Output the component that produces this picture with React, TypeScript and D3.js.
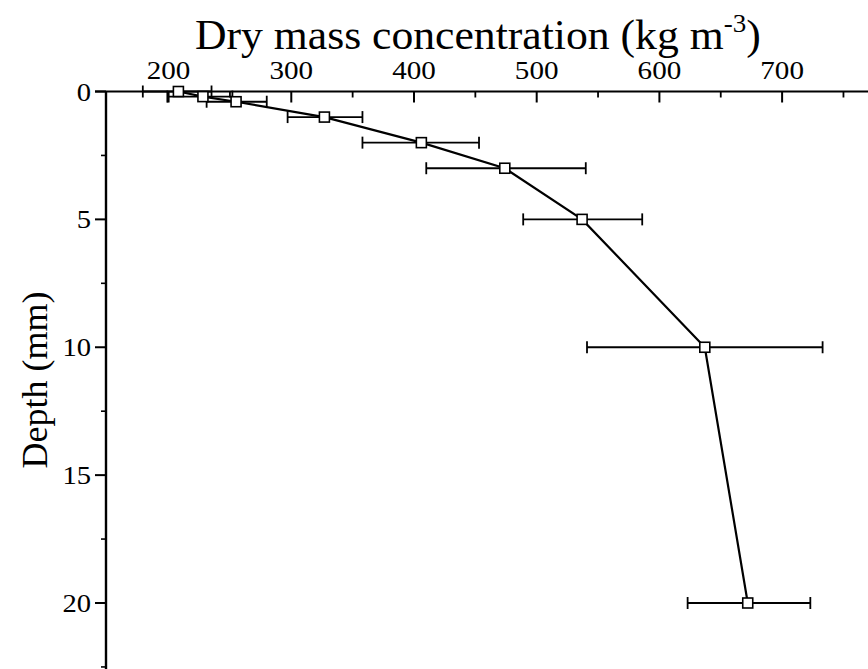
import React from "react";
import * as d3 from "d3";

const depths = [0, 0.2, 0.4, 1, 2, 3, 5, 10, 20];
const concentration = [208, 228, 255, 327, 406, 474, 537, 637, 672];
const errLow = [179, 199, 231, 297, 358, 410, 489, 541, 623];
const errHigh = [235, 252, 280, 358, 453, 540, 586, 733, 723];
const xMajorTicks = [200, 300, 400, 500, 600, 700];
const xMinorTicks = [250, 350, 450, 550, 650, 750];
const yMajorTicks = [0, 5, 10, 15, 20];
const yMinorTicks = [2.5, 7.5, 12.5, 17.5, 22.5];

const W = 868;
const H = 669;
const FONT = "'Liberation Serif', 'Times New Roman', serif";

export default function App() {
  const x = d3.scaleLinear().domain([149, 770]).range([106, 868]);
  const y = d3.scaleLinear().domain([0, 20]).range([91.5, 603]);
  const line = d3
    .line<number>()
    .x((_, i) => x(concentration[i]))
    .y((d) => y(d));

  return (
    <svg
      width={W}
      height={H}
      style={{ position: "absolute", left: 0, top: 0, background: "#fff" }}
      fontFamily={FONT}
    >
      {/* axes */}
      <line x1={95} x2={W} y1={y(0)} y2={y(0)} stroke="#000" strokeWidth={1.8} />
      <line x1={106} x2={106} y1={y(0)} y2={H} stroke="#000" strokeWidth={2.4} />

      {/* top axis ticks (inward) */}
      {xMajorTicks.map((t) => (
        <g key={"xm" + t}>
          <line x1={x(t)} x2={x(t)} y1={y(0)} y2={y(0) + 11} stroke="#000" strokeWidth={2} />
          <text
            transform={`translate(${x(t)},79) scale(1.12,1)`}
            fontSize={26}
            textAnchor="middle"
            fill="#000"
          >
            {t}
          </text>
        </g>
      ))}
      {xMinorTicks.map((t) => (
        <line key={"xn" + t} x1={x(t)} x2={x(t)} y1={y(0)} y2={y(0) + 6} stroke="#000" strokeWidth={1.8} />
      ))}

      {/* left axis ticks (outward) */}
      {yMajorTicks.map((t) => (
        <g key={"ym" + t}>
          <line x1={95} x2={106} y1={y(t)} y2={y(t)} stroke="#000" strokeWidth={2} />
          <text
            transform={`translate(91,${y(t)}) scale(1.1,1)`}
            dy="0.35em"
            fontSize={26}
            textAnchor="end"
            fill="#000"
          >
            {t}
          </text>
        </g>
      ))}
      {yMinorTicks.map((t) => (
        <line key={"yn" + t} x1={101} x2={106} y1={y(t)} y2={y(t)} stroke="#000" strokeWidth={1.6} />
      ))}

      {/* titles */}
      <text transform="translate(195,49) scale(1.04,1)" fontSize={42} fill="#000">
        Dry mass concentration (kg m
        <tspan dy={-17} fontSize={26}>-3</tspan>
        <tspan dy={17}>)</tspan>
      </text>
      <text
        transform={`translate(47, 380) rotate(-90)`}
        fontSize={36}
        textAnchor="middle"
        fill="#000"
      >
        Depth (mm)
      </text>

      {/* error bars */}
      {depths.map((d, i) => (
        <g key={"e" + i} stroke="#000" strokeWidth={1.8}>
          <line x1={x(errLow[i])} x2={x(errHigh[i])} y1={y(d)} y2={y(d)} />
          <line x1={x(errLow[i])} x2={x(errLow[i])} y1={y(d) - 6} y2={y(d) + 6} />
          <line x1={x(errHigh[i])} x2={x(errHigh[i])} y1={y(d) - 6} y2={y(d) + 6} />
        </g>
      ))}

      {/* connecting line */}
      <path d={line(depths) || ""} fill="none" stroke="#000" strokeWidth={2.2} />

      {/* markers */}
      {depths.map((d, i) => (
        <rect
          key={"m" + i}
          x={x(concentration[i]) - 5}
          y={y(d) - 5}
          width={10}
          height={10}
          fill="#fff"
          stroke="#000"
          strokeWidth={1.6}
        />
      ))}
    </svg>
  );
}
